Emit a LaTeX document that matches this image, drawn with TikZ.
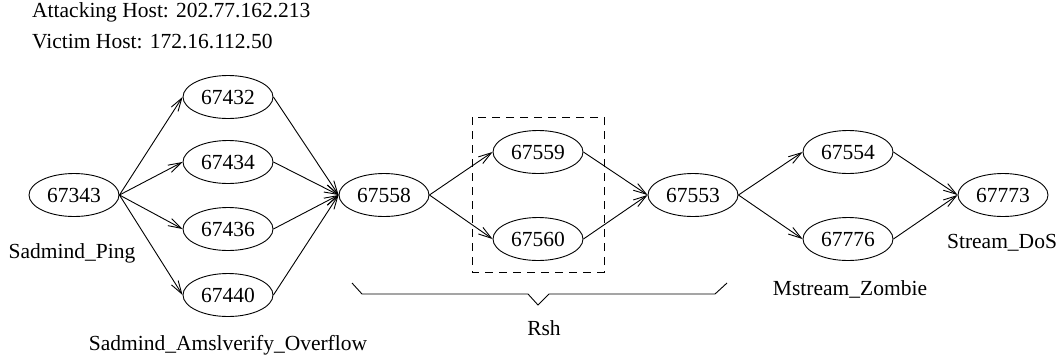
\documentclass[tikz,border=0pt]{standalone}
\usepackage{fontspec}
\setmainfont{Liberation Serif}
\usetikzlibrary{shapes.geometric,arrows.meta}
\begin{document}
\begin{tikzpicture}[x=1pt,y=-1pt,
  ev/.style={draw,ellipse,line width=0.9pt,minimum width=90pt,minimum height=43pt,inner sep=0pt,font=\fontsize{21.5}{24}\selectfont},
  lab/.style={font=\fontsize{21.5}{24}\selectfont,inner sep=0pt},
  hdr/.style={font=\fontsize{21.5}{24}\selectfont,inner sep=0pt,anchor=west},
  edge/.style={line width=0.9pt,-{Straight Barb[length=13pt,width=8pt,line width=0.9pt]}}]
\useasboundingbox (0,0) rectangle (1063,360);
\node[hdr] (atk) at (32,12) {Attacking Host: 202.77.162.213};
\node[hdr] (vic) at (32,42) {Victim Host: 172.16.112.50};
\node[ev] (a) at (74,195) {67343};
\node[ev] (b1) at (228,97) {67432};
\node[ev] (b2) at (228,162) {67434};
\node[ev] (b3) at (228,229) {67436};
\node[ev] (b4) at (228,295) {67440};
\node[ev] (c) at (384,195) {67558};
\node[ev] (d1) at (538,152) {67559};
\node[ev] (d2) at (538,239) {67560};
\node[ev] (e) at (693,195) {67553};
\node[ev] (f1) at (848,152) {67554};
\node[ev] (f2) at (848,239) {67776};
\node[ev] (g) at (1003,195) {67773};
\foreach \t in {b1,b2,b3,b4}{
  \draw[edge] (a.east) -- (\t.west);
  \draw[edge] (\t.east) -- (c.west);
}
\draw[edge] (c.east) -- (d1.west);
\draw[edge] (c.east) -- (d2.west);
\draw[edge] (d1.east) -- (e.west);
\draw[edge] (d2.east) -- (e.west);
\draw[edge] (e.east) -- (f1.west);
\draw[edge] (e.east) -- (f2.west);
\draw[edge] (f1.east) -- (g.west);
\draw[edge] (f2.east) -- (g.west);
\draw[dashed,line width=0.9pt,dash pattern=on 8pt off 6pt] (472,117) rectangle (604,272);
\draw[line width=0.9pt] (352,283) -- (362,294) -- (528,294) -- (538,305) -- (549,294) -- (715,294) -- (727,283);
\node[lab] (l1) at (72,253) {Sadmind\_Ping};
\node[lab] (l2) at (228,345) {Sadmind\_Amslverify\_Overflow};
\node[lab] (l3) at (544,328) {Rsh};
\node[lab] (l4) at (850,289) {Mstream\_Zombie};
\node[lab] (l5) at (1002,243) {Stream\_DoS};
\end{tikzpicture}
\end{document}
